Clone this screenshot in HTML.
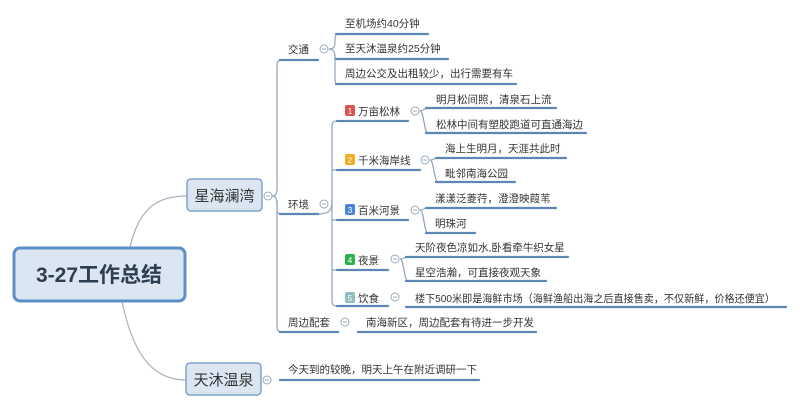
<!DOCTYPE html>
<html><head><meta charset="utf-8"><style>
html,body{margin:0;padding:0;background:#fff;}
svg{display:block;}
text{font-family:"Liberation Sans","Noto Sans CJK SC",sans-serif;fill:#333;}
</style></head><body>
<svg width="800" height="408" viewBox="0 0 800 408" xmlns="http://www.w3.org/2000/svg">
<g fill="none" stroke="#a9b4c0" stroke-width="1.2">
<path d="M130 247 C140 205,160 196,187 196"/>
<path d="M122 301 C132 350,150 380,186 380"/>
</g>
<g fill="none" stroke="#8fa4bc" stroke-width="1.2">
<path d="M272 196 C278 196,277 190,277 180 L277 66 C277 60,279 60,283 60"/>
<path d="M272 196 C278 196,277 205,277 210 C277 214,279 214,283 214"/>
<path d="M277 200 L277 326 C277 332,279 332,283 332"/>
<path d="M329 49 C335 49,335 45,335 40 C335 35,336 34,340 34"/>
<path d="M329 49 C335 49,335 55,335 59"/>
<path d="M335 55 L335 78 C335 84,336 84,340 84"/>
<path d="M318 214 C330 214,332 210,332 200 L332 127 C332 121,334 121,338 121"/>
<path d="M332 200 L332 300 C332 306,334 306,338 306"/>
<path d="M332 170 C332 170,333 170,338 170"/><path d="M332 220 L338 220"/><path d="M332 270 L338 270"/>
<path d="M420 111 C424 111,424 108,428 108"/><path d="M420 111 C424 111,424 133,428 133"/>
<path d="M430 160 C434 160,434 158,438 158"/><path d="M430 160 C434 160,434 182,438 182"/>
<path d="M420 210 C424 210,424 208,428 208"/><path d="M420 210 C424 210,424 233,428 233"/>
<path d="M400 259 C404 259,404 257,408 257"/><path d="M400 259 C404 259,404 281,408 281"/>
</g>
<g stroke="#5b87b5" stroke-width="2.2" stroke-linecap="round">
<line x1="280" y1="60" x2="318" y2="60"/><line x1="280" y1="214" x2="318" y2="214"/><line x1="280" y1="332" x2="338" y2="332"/>
<line x1="336" y1="34" x2="428" y2="34"/><line x1="336" y1="59" x2="448" y2="59"/><line x1="336" y1="84" x2="516" y2="84"/>
<line x1="337" y1="121" x2="408" y2="121"/><line x1="337" y1="170" x2="420" y2="170"/><line x1="337" y1="220" x2="408" y2="220"/>
<line x1="337" y1="270" x2="388" y2="270"/><line x1="337" y1="306" x2="388" y2="306"/>
<line x1="426" y1="108" x2="556" y2="108"/><line x1="426" y1="133" x2="586" y2="133"/>
<line x1="436" y1="158" x2="566" y2="158"/><line x1="436" y1="182" x2="515" y2="182"/>
<line x1="426" y1="208" x2="556" y2="208"/><line x1="426" y1="233" x2="475" y2="233"/>
<line x1="406" y1="257" x2="568" y2="257"/><line x1="406" y1="281" x2="546" y2="281"/>
<line x1="406" y1="307" x2="786" y2="307"/>
<line x1="358" y1="332" x2="536" y2="332"/>
<line x1="280" y1="380" x2="479" y2="380"/>
</g>
<rect x="14" y="248" width="171" height="53" rx="6" fill="#dbe6f2" stroke="#5b8fc9" stroke-width="3"/>
<text x="99" y="282" text-anchor="middle" font-size="21" font-weight="bold" style="fill:#2c3e50">3-27工作总结</text>
<rect x="187" y="179" width="75" height="32" rx="4" fill="#dbe6f2" stroke="#7ea3c9" stroke-width="1.5"/>
<text x="224.5" y="201" text-anchor="middle" font-size="15">星海澜湾</text>
<rect x="186" y="363" width="75" height="32" rx="4" fill="#dbe6f2" stroke="#7ea3c9" stroke-width="1.5"/>
<text x="223.5" y="385" text-anchor="middle" font-size="15">天沐温泉</text>
<g fill="#fff" stroke="#9aa8b8" stroke-width="1">
<circle cx="268" cy="196" r="4"/><circle cx="267" cy="380" r="4"/>
<circle cx="324" cy="49" r="4"/><circle cx="324" cy="204" r="4"/><circle cx="345" cy="322" r="4"/>
<circle cx="415" cy="111" r="4"/><circle cx="425" cy="160" r="4"/><circle cx="415" cy="210" r="4"/>
<circle cx="395" cy="259" r="4"/><circle cx="395" cy="297" r="4"/>
</g>
<g stroke="#9aa8b8" stroke-width="1">
<line x1="266" y1="196" x2="270" y2="196"/><line x1="265" y1="380" x2="269" y2="380"/>
<line x1="322" y1="49" x2="326" y2="49"/><line x1="322" y1="204" x2="326" y2="204"/><line x1="343" y1="322" x2="347" y2="322"/>
<line x1="413" y1="111" x2="417" y2="111"/><line x1="423" y1="160" x2="427" y2="160"/><line x1="413" y1="210" x2="417" y2="210"/>
<line x1="393" y1="259" x2="397" y2="259"/><line x1="393" y1="297" x2="397" y2="297"/>
</g>
<g font-size="10.5">
<text x="288" y="53">交通</text><text x="288" y="208">环境</text><text x="288" y="326">周边配套</text>
<text x="345" y="27">至机场约40分钟</text><text x="345" y="52">至天沐温泉约25分钟</text><text x="345" y="77">周边公交及出租较少，出行需要有车</text>
<text x="358" y="115">万亩松林</text><text x="358" y="164">千米海岸线</text><text x="358" y="214">百米河景</text><text x="358" y="264">夜景</text><text x="358" y="302">饮食</text>
<text x="436" y="103">明月松间照，清泉石上流</text><text x="436" y="128">松林中间有塑胶跑道可直通海边</text>
<text x="445" y="152">海上生明月，天涯共此时</text><text x="445" y="177">毗邻南海公园</text>
<text x="435" y="202">漾漾泛菱荇，澄澄映葭苇</text><text x="435" y="227">明珠河</text>
<text x="415" y="251">天阶夜色凉如水,卧看牵牛织女星</text><text x="415" y="276">星空浩瀚，可直接夜观天象</text>
<text x="415" y="302" textLength="360" lengthAdjust="spacingAndGlyphs">楼下500米即是海鲜市场（海鲜渔船出海之后直接售卖，不仅新鲜，价格还便宜）</text>
<text x="366" y="326">南海新区，周边配套有待进一步开发</text>
<text x="288" y="373">今天到的较晚，明天上午在附近调研一下</text>
</g>
<g>
<rect x="345" y="105" width="10" height="11" rx="2" fill="#d9534f"/>
<rect x="345" y="154" width="10" height="11" rx="2" fill="#f0ad1e"/>
<rect x="345" y="204" width="10" height="11" rx="2" fill="#4a86d8"/>
<rect x="345" y="254" width="10" height="11" rx="2" fill="#2bb24c"/>
<rect x="345" y="292" width="10" height="11" rx="2" fill="#8fbfbf"/>
</g>
<g font-size="8" text-anchor="middle">
<text x="350" y="114" style="fill:#fff">1</text><text x="350" y="163" style="fill:#fff">2</text><text x="350" y="213" style="fill:#fff">3</text><text x="350" y="263" style="fill:#fff">4</text><text x="350" y="301" style="fill:#fff">5</text>
</g>
</svg>
</body></html>
